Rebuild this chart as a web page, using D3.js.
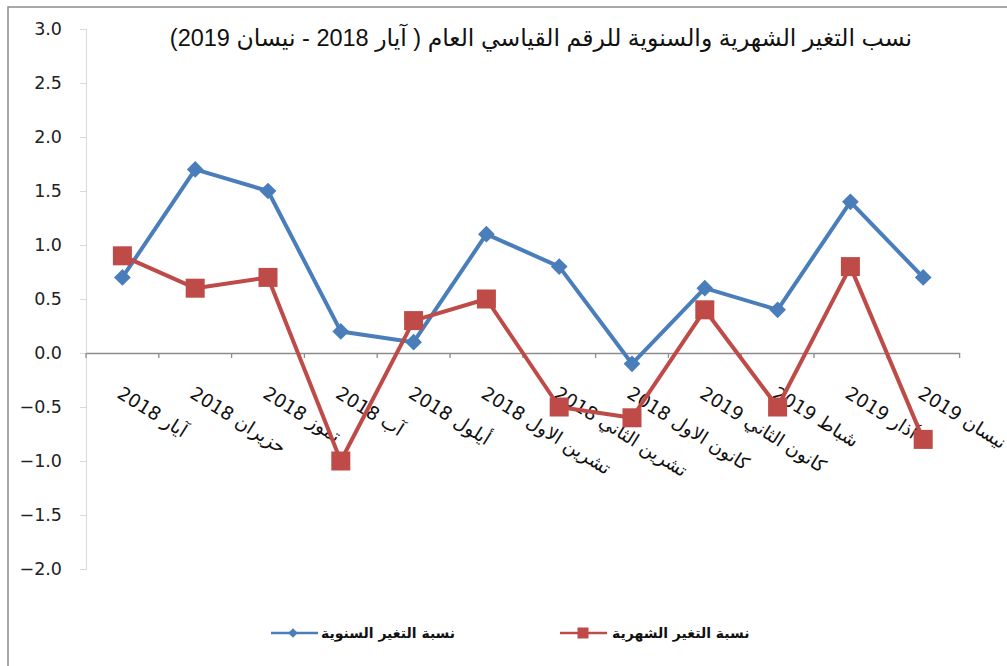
<!DOCTYPE html>
<html>
<head>
<meta charset="utf-8">
<script src="https://cdn.jsdelivr.net/npm/d3@7/dist/d3.min.js"></script>
<style>
  html, body { margin: 0; padding: 0; background: #fff; }
  svg { display: block; }
</style>
</head>
<body>
<svg id="chart" width="1007" height="666"></svg>
<script>
const categories = ["آيار 2018", "حزيران 2018", "تموز 2018", "آب 2018", "أيلول 2018", "تشرين الاول 2018",
  "تشرين الثاني 2018", "كانون الاول 2018", "كانون الثاني 2019", "شباط 2019", "آذار 2019", "نيسان 2019"];
const annualChange = [0.7, 1.7, 1.5, 0.2, 0.1, 1.1, 0.8, -0.1, 0.6, 0.4, 1.4, 0.7];
const monthlyChange = [0.9, 0.6, 0.7, -1.0, 0.3, 0.5, -0.5, -0.6, 0.4, -0.5, 0.8, -0.8];
const yTicks = [3.0, 2.5, 2.0, 1.5, 1.0, 0.5, 0.0, -0.5, -1.0, -1.5, -2.0];
const titleText = "نسب التغير الشهرية والسنوية للرقم القياسي العام ( آيار 2018 - نيسان 2019)";
const seriesNames = ["نسبة التغير السنوية", "نسبة التغير الشهرية"];

const blue = "#4A7EBB", red = "#BE4B48";
const svg = d3.select("#chart");

// outer frame (only left/top visible in the reference)
svg.append("rect").attr("x", 8).attr("y", 7).attr("width", 1100).attr("height", 800)
  .attr("fill", "none").attr("stroke", "#8c8c8c").attr("stroke-width", 1.5);

const x = d3.scaleBand().domain(categories).range([86, 959.6]).paddingInner(0).paddingOuter(0);
const y = d3.scaleLinear().domain([-2, 3]).range([569, 29]);

// y axis
const yAxis = svg.append("g").attr("transform", "translate(86,0)")
  .call(d3.axisLeft(y).tickValues(yTicks).tickFormat(d3.format(".1f")).tickSize(6).tickPadding(18));
yAxis.select(".domain").attr("stroke", "#d9d9d9");
yAxis.selectAll(".tick line").attr("stroke", "#d9d9d9");
yAxis.selectAll(".tick text").attr("font-family", "DejaVu Sans, Verdana, sans-serif")
  .attr("font-size", 17.5).attr("fill", "#222");

// x axis at y=0
const xAxis = svg.append("g").attr("transform", `translate(0,${y(0)})`)
  .call(d3.axisBottom(x).tickSize(0).tickFormat(""));
xAxis.select(".domain").attr("stroke", "#8c8c8c").attr("stroke-width", 1.3);
xAxis.selectAll(".tick").remove();
const bounds = d3.range(categories.length + 1).map(i => x.range()[0] + i * x.step());
svg.append("g").selectAll("line").data(bounds).join("line")
  .attr("x1", d => d).attr("x2", d => d).attr("y1", y(0)).attr("y2", y(0) + 5)
  .attr("stroke", "#8c8c8c").attr("stroke-width", 1.3);

// category labels
svg.append("g").selectAll("text").data(categories).join("text")
  .attr("transform", d => `translate(${x(d) + x.bandwidth() / 2 + 1},${y(0) + 32}) rotate(32)`)
  .attr("direction", "rtl").attr("text-anchor", "end")
  .attr("dy", "0.75em")
  .attr("font-family", "DejaVu Sans, sans-serif").attr("font-size", 18.5).attr("fill", "#111")
  .text(d => d);

const cx = d => x(d) + x.bandwidth() / 2;
const line = d3.line().x((d, i) => cx(categories[i])).y(d => y(d));

// annual (blue)
svg.append("path").datum(annualChange).attr("d", line).attr("fill", "none")
  .attr("stroke", blue).attr("stroke-width", 4).attr("stroke-linejoin", "round");
svg.append("g").selectAll("path").data(annualChange).join("path")
  .attr("d", d3.symbol(d3.symbolSquare, 140))
  .attr("transform", (d, i) => `translate(${cx(categories[i])},${y(d)}) rotate(45)`)
  .attr("fill", blue);

// monthly (red)
svg.append("path").datum(monthlyChange).attr("d", line).attr("fill", "none")
  .attr("stroke", red).attr("stroke-width", 4).attr("stroke-linejoin", "round");
svg.append("g").selectAll("rect").data(monthlyChange).join("rect")
  .attr("x", (d, i) => cx(categories[i]) - 9.5).attr("y", d => y(d) - 9.5)
  .attr("width", 19).attr("height", 19).attr("fill", red);

// title
svg.append("text").attr("x", 541).attr("y", 46).attr("text-anchor", "middle").attr("direction", "rtl")
  .attr("font-family", "Liberation Sans, Arial, DejaVu Sans, sans-serif").attr("font-size", 23.5).attr("fill", "#111")
  .text(titleText);

// legend
const legend = [
  { name: seriesNames[0], color: blue, x1: 271, x2: 318, mx: 293, marker: "diamond", tx: 321 },
  { name: seriesNames[1], color: red, x1: 560, x2: 607, mx: 583, marker: "square", tx: 612 }
];
const lg = svg.append("g");
legend.forEach(l => {
  lg.append("line").attr("x1", l.x1).attr("x2", l.x2).attr("y1", 633).attr("y2", 633)
    .attr("stroke", l.color).attr("stroke-width", 2.5);
  if (l.marker === "diamond") {
    lg.append("path").attr("d", d3.symbol(d3.symbolSquare, 45)).attr("transform", `translate(${l.mx},633) rotate(45)`).attr("fill", l.color);
  } else {
    lg.append("rect").attr("x", l.mx - 5.5).attr("y", 627.5).attr("width", 11).attr("height", 11).attr("fill", l.color);
  }
  lg.append("text").attr("x", l.tx).attr("y", 638).attr("text-anchor", "start")
    .attr("font-family", "DejaVu Sans, sans-serif").attr("font-weight", "bold").attr("font-size", 14).attr("fill", "#111")
    .text(l.name);
});
</script>
</body>
</html>
